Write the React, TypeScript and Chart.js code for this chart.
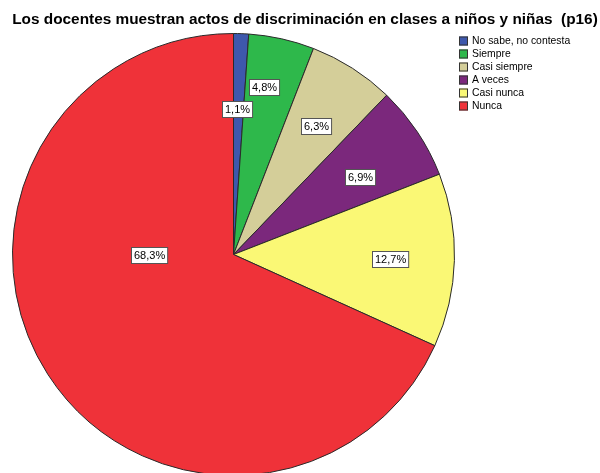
import React, { useEffect, useRef } from "react";
import { Chart, registerables } from "chart.js";

Chart.register(...registerables);

const TITLE = "Los docentes muestran actos de discriminación en clases a niños y niñas  (p16)";
const categories = ["No sabe, no contesta", "Siempre", "Casi siempre", "A veces", "Casi nunca", "Nunca"];
const values = [1.1, 4.8, 6.3, 6.9, 12.7, 68.3];
const valueLabels = ["1,1%", "4,8%", "6,3%", "6,9%", "12,7%", "68,3%"];
const colors = ["#3E58AC", "#2EB84B", "#D4CE99", "#7B287C", "#FAF875", "#EF3239"];
// label placement: radius fraction, optional angle override (degrees clockwise from top)
const labelRadius = [0.66, 0.77, 0.69, 0.67, 0.71, 0.38];
const labelAngle: (number | null)[] = [1.4, 10.3, null, 58.5, null, 270];

const FONT = "Arial, 'Liberation Sans', sans-serif";

const overlayPlugin = {
  id: "overlay",
  afterDraw(chart: any) {
    const ctx = chart.ctx as CanvasRenderingContext2D;
    ctx.save();
    // title, sized to span the reference width
    ctx.fillStyle = "#000";
    ctx.font = `bold 16px ${FONT}`;
    const tw = ctx.measureText(TITLE).width;
    const size = Math.min(16, (16 * 586) / tw);
    ctx.font = `bold ${size.toFixed(2)}px ${FONT}`;
    ctx.textBaseline = "middle";
    ctx.textAlign = "center";
    ctx.fillText(TITLE, 305, 20);

    // legend
    ctx.font = `10.4px ${FONT}`;
    ctx.textAlign = "left";
    categories.forEach((c, i) => {
      const y = 41 + i * 13;
      ctx.fillStyle = colors[i];
      ctx.fillRect(459, y - 4.5, 9, 9);
      ctx.strokeStyle = "#333";
      ctx.lineWidth = 1;
      ctx.strokeRect(459.5, y - 4, 8, 8);
      ctx.fillStyle = "#000";
      ctx.fillText(c, 472, y + 0.5);
    });

    // value labels
    const meta = chart.getDatasetMeta(0);
    ctx.font = `11px ${FONT}`;
    ctx.textAlign = "center";
    meta.data.forEach((arc: any, i: number) => {
      const { x, y, startAngle, endAngle, outerRadius } = arc.getProps(
        ["x", "y", "startAngle", "endAngle", "outerRadius"],
        true
      );
      let a = (startAngle + endAngle) / 2;
      const ov = labelAngle[i];
      if (ov !== null) a = (ov - 90) * Math.PI / 180;
      const r = outerRadius * labelRadius[i];
      const lx = x + Math.cos(a) * r;
      const ly = y + Math.sin(a) * r;
      const t = valueLabels[i];
      const w = ctx.measureText(t).width + 5;
      const h = 16;
      const bx = Math.round(lx - w / 2) + 0.5;
      const by = Math.round(ly - h / 2) + 0.5;
      ctx.fillStyle = "#fff";
      ctx.fillRect(bx, by, w, h);
      ctx.strokeStyle = "#555";
      ctx.lineWidth = 1;
      ctx.strokeRect(bx, by, w, h);
      ctx.fillStyle = "#000";
      ctx.fillText(t, bx + w / 2, by + h / 2 + 0.5);
    });
    ctx.restore();
  },
};

export default function App() {
  const ref = useRef<HTMLCanvasElement | null>(null);
  useEffect(() => {
    if (!ref.current) return;
    const chart = new Chart(ref.current, {
      type: "pie",
      data: {
        labels: categories,
        datasets: [
          {
            data: values,
            backgroundColor: colors,
            borderColor: "#2a2a2a",
            borderWidth: 1,
          },
        ],
      },
      options: {
        responsive: false,
        animation: false,
        layout: { padding: { left: 12, top: 33, right: 145, bottom: 4 } },
        plugins: {
          legend: { display: false },
          title: { display: false },
          tooltip: { enabled: false },
        },
      },
      plugins: [overlayPlugin],
    });
    return () => chart.destroy();
  }, []);
  return (
    <div
      style={{
        position: "fixed",
        left: 0,
        top: 0,
        width: 600,
        height: 473,
        overflow: "hidden",
        background: "#fff",
      }}
    >
      <canvas ref={ref} width={600} height={480} style={{ width: 600, height: 480, display: "block" }} />
    </div>
  );
}
